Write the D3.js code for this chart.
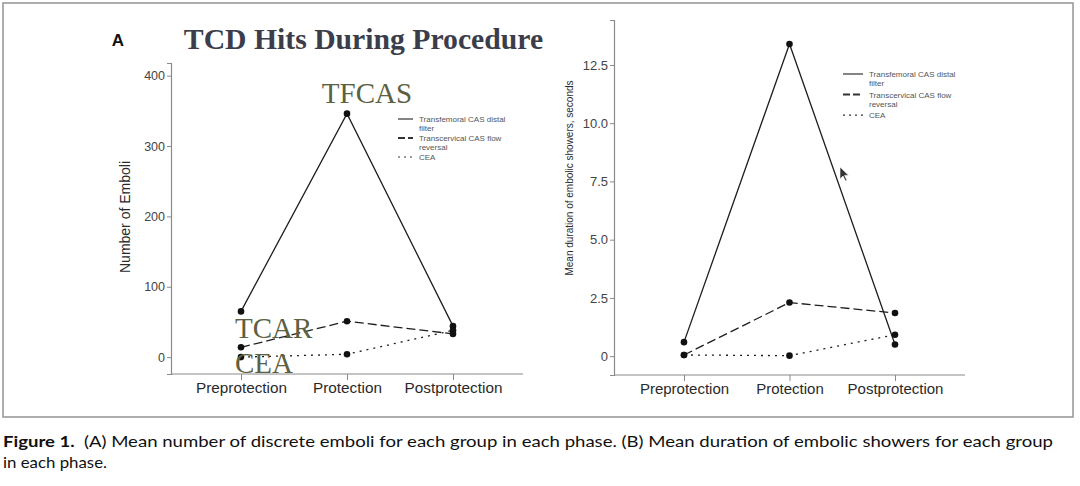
<!DOCTYPE html>
<html><head><meta charset="utf-8">
<script src="https://cdn.jsdelivr.net/npm/d3@7"></script>
<style>body{margin:0;background:#fff}svg{display:block}</style>
</head><body>
<svg id="c" width="1080" height="486"></svg>
<script>
const phases = ["Preprotection","Protection","Postprotection"];
const seriesNames = ["Transfemoral CAS distal filter","Transcervical CAS flow reversal","CEA"];
// Panel A: mean number of emboli
const embTF   = [65, 346, 44];
const embTCAR = [14, 51, 33];
const embCEA  = [0, 4, 38];
// Panel B: mean duration of embolic showers (s)
const durTF   = [0.6, 13.4, 0.5];
const durTCAR = [0.05, 2.3, 1.85];
const durCEA  = [0.05, 0.02, 0.92];
const ticksA = [0,100,200,300,400];
const ticksB = [0,2.5,5.0,7.5,10.0,12.5];
const annLabels = ["TFCAS","TCAR","CEA"];

const svg = d3.select("#c");
svg.append("rect").attr("x",3).attr("y",3).attr("width",1070).attr("height",414)
  .attr("fill","#fff").attr("stroke","#9a9a9a").attr("stroke-width",1.6);

const dashes = [null, "9,4", "2,5"];
const lineCol = "#1e1e1e";

function panel(o){
  const g = svg.append("g");
  const x = d3.scalePoint().domain(phases).range([o.x0, o.x0 + 2*o.step]);
  const y = d3.scaleLinear().domain(o.ydom).range(o.yrange);
  const ya = g.append("g").attr("transform",`translate(${o.axX},0)`)
    .call(d3.axisLeft(y).tickValues(o.ticks).tickFormat(o.fmt).tickSizeOuter(0).tickSize(4));
  ya.select(".domain").attr("stroke","#8a8a8a").attr("stroke-width",1.2);
  ya.selectAll(".tick line").attr("stroke","#8a8a8a");
  ya.selectAll(".tick text").attr("fill","#444").style("font-family","Liberation Sans, Arial").style("font-size",o.tfs+"px").attr("x",-6);
  const xa = g.append("g").attr("transform",`translate(0,${o.axY})`)
    .call(d3.axisBottom(x).tickSizeOuter(0).tickSize(6));
  xa.select(".domain").attr("d",`M${o.axX},0H${o.axXend}`).attr("stroke","#8a8a8a").attr("stroke-width",1.2);
  xa.selectAll(".tick line").attr("stroke","#8a8a8a");
  xa.selectAll(".tick text").attr("fill","#2a2a2a").style("font-family","Liberation Sans, Arial").style("font-size",o.xfs+"px").attr("y",8);
  g.append("text").attr("transform",`translate(${o.ytX},${o.ytY}) rotate(-90)`)
    .attr("text-anchor","middle").attr("fill","#2a2a2a")
    .style("font-family","Liberation Sans, Arial").style("font-size",o.ytfs+"px").text(o.ytitle);
  const line = d3.line().x((d,i)=>x(phases[i])).y(d=>y(d));
  o.series.forEach((s,k)=>{
    g.append("path").attr("d",line(s)).attr("fill","none").attr("stroke",lineCol)
      .attr("stroke-width",1.3).attr("stroke-dasharray",dashes[k]);
  });
  o.series.forEach(s=>{
    g.selectAll(null).data(s).enter().append("circle")
      .attr("cx",(d,i)=>x(phases[i])).attr("cy",d=>y(d)).attr("r",3.3).attr("fill","#111");
  });
  const lg = g.append("g").attr("transform",`translate(${o.lx},${o.ly})`);
  const rows = [["Transfemoral CAS distal","filter"],["Transcervical CAS flow","reversal"],["CEA"]];
  let yy = 0;
  rows.forEach((r,k)=>{
    lg.append("line").attr("x1",0).attr("x2",o.lw).attr("y1",yy).attr("y2",yy)
      .attr("stroke","#333").attr("stroke-width",k==1?2:1.2).attr("stroke-dasharray",k==0?null:(k==1?"7,3":"2,4"));
    r.forEach((t,j)=>{
      lg.append("text").attr("x",o.lw+6).attr("y",yy+j*o.lh+3).attr("fill","#555")
        .style("font-family","Liberation Sans, Arial").style("font-size","8px").text(t);
    });
    yy += r.length*o.lh + 2;
  });
  return {x,y,g};
}

const A = panel({x0:241, step:106, ydom:[-24,418], yrange:[374,63], axX:171, axY:374, axXend:523,
  ticks:ticksA, fmt:d3.format("d"), tfs:12.5, xfs:15.3, ytX:130, ytY:217, ytfs:14, ytitle:"Number of Emboli",
  series:[embTF, embTCAR, embCEA], lx:398, ly:119, lw:15, lh:8.5});
const B = panel({x0:684, step:105.5, ydom:[-0.81,14.43], yrange:[375,20], axX:614, axY:375, axXend:965,
  ticks:ticksB, fmt:d=>d===0?"0":d3.format(".1f")(d), tfs:13, xfs:15, ytX:573, ytY:178, ytfs:10, ytitle:"Mean duration of embolic showers, seconds",
  series:[durTF, durTCAR, durCEA], lx:843, ly:74, lw:20, lh:9.3});

// Panel label & title
svg.append("text").attr("x",118).attr("y",46).attr("text-anchor","middle").attr("fill","#111")
  .style("font-family","Liberation Sans, Arial").style("font-weight","bold").style("font-size","17px").text("A");
svg.append("text").attr("x",363.5).attr("y",49).attr("text-anchor","middle").attr("fill","#3b3d4a")
  .style("font-family","Liberation Serif, Times New Roman").style("font-weight","bold").style("font-size","29.7px")
  .text("TCD Hits During Procedure");

// Group annotations on panel A
const annStyle = s => s.attr("fill","#5b6142").style("font-family","Liberation Serif, Times New Roman").style("font-size","29px");
annStyle(svg.append("text").attr("x",A.x(phases[1])+20).attr("y",A.y(embTF[1])-11).attr("text-anchor","middle").text(annLabels[0]));
annStyle(svg.append("text").attr("x",A.x(phases[0])-6).attr("y",A.y(embTCAR[0])-9).text(annLabels[1]));
annStyle(svg.append("text").attr("x",A.x(phases[0])-6).attr("y",A.y(embCEA[0])+16).text(annLabels[2]));

// cursor arrow (decoration in panel B)
svg.append("path").attr("d","M840,167 L840,179 L843,176 L845.5,181 L847,180.3 L844.6,175.4 L848.5,175.2 Z")
  .attr("fill","#333").attr("stroke","#fff").attr("stroke-width",0.6);

// caption
const cap = svg.append("text").attr("x",3).attr("y",447).attr("fill","#111")
  .attr("textLength",1050).attr("lengthAdjust","spacingAndGlyphs")
  .style("font-family","Lato, Open Sans, sans-serif").style("font-size","15px");
cap.append("tspan").style("font-weight","bold").text("Figure 1.");
cap.append("tspan").text("\u2002(A) Mean number of discrete emboli for each group in each phase. (B) Mean duration of embolic showers for each group");
svg.append("text").attr("x",3).attr("y",468).attr("fill","#111")
  .attr("textLength",104).attr("lengthAdjust","spacingAndGlyphs")
  .style("font-family","Lato, Open Sans, sans-serif").style("font-size","15px").text("in each phase.");
</script></body></html>
